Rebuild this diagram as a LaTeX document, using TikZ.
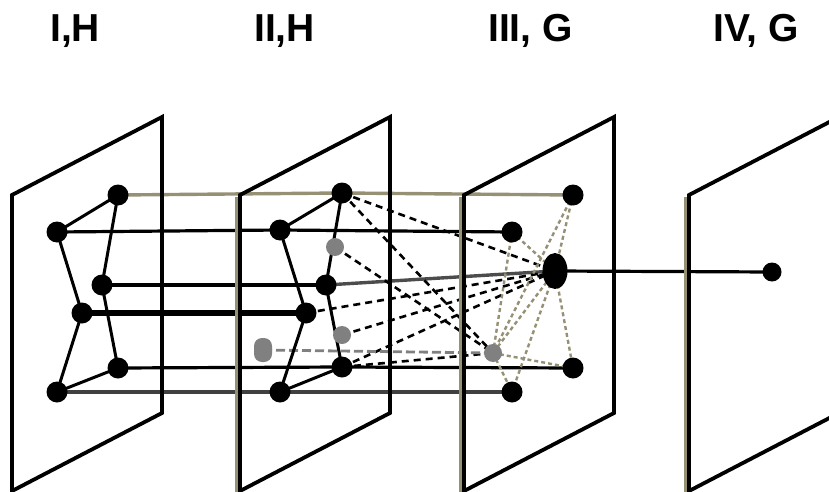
\documentclass[tikz,border=0pt]{standalone}
\usepackage{fontspec}
\setmainfont{Liberation Sans}
\usetikzlibrary{shapes.geometric}
\definecolor{tanc}{RGB}{150,144,116}
\definecolor{gnode}{RGB}{128,128,128}
\begin{document}
\begin{tikzpicture}[x=1pt,y=-1pt,
  dot/.style={circle,fill=black,inner sep=0pt,minimum size=21pt},
  gdot/.style={circle,fill=gnode,inner sep=0pt,minimum size=18pt},
  hub/.style={ellipse,fill=black,inner sep=0pt,minimum width=25pt,minimum height=36pt},
  plane/.style={line width=3.8pt,line join=miter},
  shade/.style={draw=tanc,line width=3.5pt},
  inner/.style={line width=3pt},
  link/.style={line width=3.2pt},
  thicklink/.style={line width=5.4pt},
  tanlink/.style={line width=3.4pt,draw=tanc},
  dlink/.style={line width=2.6pt,dash pattern=on 7pt off 5pt},
  glink/.style={line width=2.8pt,draw=gnode,dash pattern=on 9pt off 4pt},
  tdot/.style={line width=2.4pt,draw=tanc,dash pattern=on 4pt off 3pt},
  lab/.style={font=\bfseries\fontsize{39}{44}\selectfont,anchor=base west,inner sep=0pt}]
\clip (0,0) rectangle (829,492);
\useasboundingbox (0,0) rectangle (829,492);

% labels
\node[lab] (l1) at (50,42) {I,H};
\node[lab] (l2) at (254,42) {II,H};
\node[lab] (l3) at (488,42) {III, G};
\node[lab] (l4) at (713,42) {IV, G};

% node coordinates
\coordinate (a1) at (118,195); \coordinate (a2) at (57,232); \coordinate (a3) at (102,285);
\coordinate (a4) at (82,313); \coordinate (a5) at (118,368); \coordinate (a6) at (57,392);
\coordinate (b1) at (342,193); \coordinate (b2) at (280,230); \coordinate (b3) at (326,285);
\coordinate (b4) at (306,313); \coordinate (b5) at (342,367); \coordinate (b6) at (280,392);
\coordinate (bg1) at (335,247); \coordinate (bg2) at (342,335); \coordinate (bg3) at (263,350);
\coordinate (c1) at (573,195); \coordinate (c2) at (512,232); \coordinate (c3) at (555,271);
\coordinate (cg) at (493,353); \coordinate (c5) at (573,368); \coordinate (c6) at (512,392);
\coordinate (d) at (772,272);

% connectors between planes
\draw[tanlink] (a1) -- (b1) -- (c1);
\draw[link] (a2) -- (b2) -- (c2);
\draw[link] (a3) -- (b3);
\draw[tanlink,draw=black!70] (b3) -- (c3);
\draw[thicklink] (a4) -- (b4);
\draw[link] (a5) -- (b5) -- (c5);
\draw[link,draw=black!75] (a6) -- (b6) -- (c6);
\draw[link] (c3) -- (d);

\draw[dlink] (b1) -- (c3);
\draw[dlink] (b1) -- (cg);
\draw[dlink] (bg1) -- (cg);
\draw[dlink] (b5) -- (c3);
\draw[dlink] (b4) -- (c3);
\draw[dlink] (bg2) -- (c3);
\draw[dlink] (b5) -- (cg);
\draw[glink] (bg3) -- (cg);

\draw[tdot] (c1) -- (c3);
\draw[tdot] (c1) -- (cg);
\draw[tdot] (c2) -- (c3);
\draw[tdot] (c2) -- (cg);
\draw[tdot] (c3) -- (cg);
\draw[tdot] (c3) -- (c5);
\draw[tdot] (c3) -- (c6);
\draw[tdot] (cg) -- (c5);
\draw[tdot] (cg) -- (c6);

% planes
\foreach \px in {240,464,689} {
  \draw[shade] (\px-3.5,197) -- (\px-3.5,492);
}
\foreach \px in {12,240,464,689} {
  \draw[plane] (\px,195) -- (\px+150,117) -- (\px+150,413) -- (\px,491) -- cycle;
}

% edges inside planes I and II
\draw[inner] (a2) -- (a1) -- (a3) -- (a5) -- (a6) -- (a4) -- (a2);
\draw[inner] (b2) -- (b1) -- (b3) -- (b5) -- (b6) -- (b4) -- (b2);

% nodes
\foreach \n in {a1,a2,a3,a4,a5,a6,b1,b2,b3,b4,b5,b6,c1,c2,c5,c6} {
  \node[dot] (n\n) at (\n) {};
}
\node[gdot] (nbg1) at (bg1) {};
\node[gdot] (nbg2) at (bg2) {};
\node[gdot,minimum height=24pt,minimum width=18pt,rounded corners=8pt,rectangle] (nbg3) at (bg3) {};
\node[gdot] (ncg) at (cg) {};
\node[hub] (nc3) at (c3) {};
\node[dot,minimum size=19pt] (nd) at (d) {};
\end{tikzpicture}
\end{document}
